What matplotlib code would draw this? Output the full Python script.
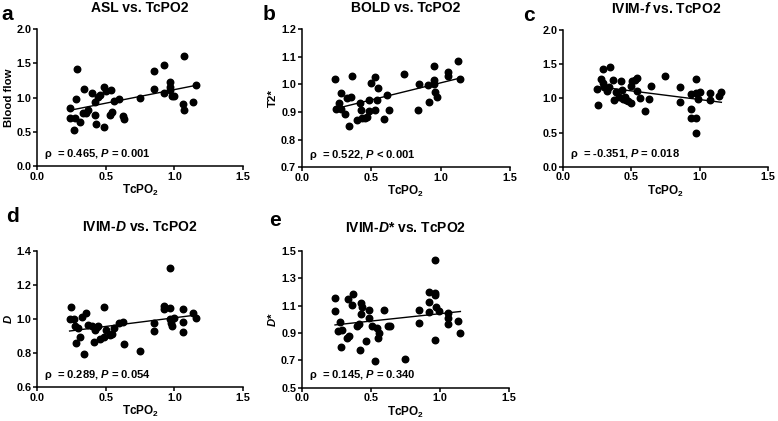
import matplotlib
matplotlib.use("Agg")
import matplotlib.pyplot as plt
import numpy as np

plt.rcParams['font.family'] = ['Liberation Sans', 'DejaVu Sans']
plt.rcParams['font.weight'] = 'bold'
plt.rcParams['mathtext.fontset'] = 'custom'
plt.rcParams['mathtext.rm'] = 'Liberation Sans:bold'
plt.rcParams['mathtext.it'] = 'Liberation Sans:italic:bold'
plt.rcParams['mathtext.bf'] = 'Liberation Sans:bold'

# panel a: ASL blood flow
asl_x = [0.242, 0.237, 0.271, 0.278, 0.281, 0.290, 0.315, 0.339, 0.334, 0.358, 0.368,
         0.399, 0.419, 0.424, 0.428, 0.440, 0.460, 0.486, 0.489, 0.503, 0.535, 0.532,
         0.549, 0.557, 0.598, 0.622, 0.634, 0.750, 0.852, 0.852, 0.927, 0.927, 0.968,
         0.968, 0.968, 0.980, 1.000, 1.060, 1.067, 1.067, 1.137, 1.154]
asl_y = [0.84, 0.70, 0.52, 0.70, 0.98, 1.41, 0.64, 1.13, 0.78, 0.77, 0.82,
         1.06, 0.75, 0.94, 0.61, 1.01, 1.04, 1.16, 0.57, 1.10, 1.11, 0.74,
         0.79, 0.95, 0.98, 0.73, 0.68, 0.99, 1.39, 1.12, 1.48, 1.06, 1.22,
         1.16, 1.11, 1.02, 1.02, 0.90, 0.82, 1.61, 0.93, 1.18]

# panel b: BOLD T2*
bold_x = [0.238, 0.245, 0.267, 0.281, 0.286, 0.314, 0.329, 0.340, 0.357, 0.364, 0.400,
          0.417, 0.424, 0.433, 0.452, 0.469, 0.481, 0.483, 0.500, 0.524, 0.529, 0.540,
          0.552, 0.590, 0.614, 0.626, 0.738, 0.840, 0.845, 0.912, 0.917, 0.952, 0.952,
          0.952, 0.960, 0.976, 1.055, 1.055, 1.121, 1.138]
bold_y = [1.018, 0.909, 0.933, 0.967, 0.909, 0.894, 0.951, 0.849, 0.955, 1.030, 0.870,
          0.931, 0.907, 0.879, 0.879, 0.880, 0.943, 0.903, 1.006, 1.027, 0.906, 0.943,
          0.985, 0.874, 0.963, 0.907, 1.039, 0.907, 1.001, 0.997, 0.937, 1.001, 1.015,
          1.067, 0.973, 0.955, 1.045, 1.030, 1.085, 1.019]

# panel c: IVIM-f
f_x = [0.249, 0.256, 0.280, 0.288, 0.293, 0.300, 0.317, 0.334, 0.341, 0.366, 0.371,
       0.390, 0.410, 0.422, 0.427, 0.439, 0.451, 0.463, 0.476, 0.493, 0.493, 0.507,
       0.524, 0.544, 0.537, 0.561, 0.629, 0.641, 0.598, 0.749, 0.859, 0.859, 0.934,
       0.934, 0.934, 0.971, 0.971, 0.971, 0.976, 0.988, 1.005, 1.073, 1.073, 1.141, 1.159]
f_y = [1.13, 0.91, 1.28, 1.43, 1.23, 1.17, 1.11, 1.16, 1.46, 1.27, 0.98,
       1.10, 1.02, 1.25, 1.12, 0.99, 1.02, 0.98, 0.96, 0.93, 1.18, 1.26,
       1.27, 1.30, 1.11, 1.00, 0.99, 1.18, 0.82, 1.32, 1.16, 0.94, 1.06,
       0.85, 0.72, 1.28, 0.72, 0.50, 1.08, 0.99, 1.10, 1.08, 0.98, 1.03, 1.10]

# panel d: IVIM-D
d_x = [0.237, 0.247, 0.266, 0.278, 0.286, 0.298, 0.315, 0.327, 0.339, 0.358, 0.368,
       0.399, 0.416, 0.423, 0.436, 0.443, 0.460, 0.484, 0.489, 0.503, 0.532, 0.549,
       0.557, 0.593, 0.624, 0.634, 0.750, 0.852, 0.852, 0.927, 0.927, 0.968, 0.968,
       0.968, 0.973, 0.985, 0.997, 1.065, 1.060, 1.065, 1.137, 1.154]
d_y = [0.998, 1.068, 1.000, 0.961, 0.861, 0.945, 0.897, 1.010, 0.793, 1.037, 0.965,
       0.961, 0.863, 0.936, 0.955, 0.961, 0.883, 0.893, 1.072, 0.936, 0.906, 0.910,
       0.949, 0.975, 0.981, 0.852, 0.815, 0.979, 0.930, 1.078, 1.057, 1.297, 1.062,
       0.998, 0.975, 0.961, 1.004, 1.059, 0.984, 0.922, 1.037, 1.004]

# panel e: IVIM-D*
ds_x = [0.241, 0.241, 0.277, 0.265, 0.284, 0.294, 0.325, 0.332, 0.344, 0.361, 0.368,
        0.397, 0.417, 0.421, 0.426, 0.428, 0.438, 0.462, 0.486, 0.489, 0.506, 0.530,
        0.542, 0.549, 0.561, 0.597, 0.621, 0.638, 0.746, 0.850, 0.850, 0.922, 0.922,
        0.922, 0.963, 0.963, 0.963, 0.963, 0.975, 0.995, 1.060, 1.060, 1.060, 1.132, 1.148]
ds_y = [1.157, 1.060, 0.980, 0.914, 0.800, 0.920, 0.865, 1.147, 0.880, 1.108, 1.189,
        0.953, 0.970, 0.775, 1.120, 1.043, 1.091, 0.841, 1.072, 1.011, 0.953, 0.695,
        0.940, 0.867, 0.901, 1.072, 0.950, 0.950, 0.714, 1.072, 0.974, 1.200, 1.128,
        1.055, 1.432, 1.196, 1.176, 0.848, 1.091, 1.060, 1.050, 1.013, 0.965, 0.987, 0.901]

panels = [
    ('a', 'ASL vs. TcPO2', 'Blood flow', asl_x, asl_y, (0, 2.0), [0.0, 0.5, 1.0, 1.5, 2.0],
     'ρ  = 0.465, $P$ = 0.001', [0.0476, 0.6057, 0.265, 0.3254], 12),
    ('b', 'BOLD vs. TcPO2', 'T2*', bold_x, bold_y, (0.7, 1.2), [0.7, 0.8, 0.9, 1.0, 1.1, 1.2],
     'ρ  = 0.522, $P$ < 0.001', [0.3878, 0.6030, 0.268, 0.3280], 12),
    ('c', 'IVIM-$f$ vs. TcPO2', '', f_x, f_y, (0, 2.0), [0.0, 0.5, 1.0, 1.5, 2.0],
     'ρ  = -0.351, $P$ = 0.018', [0.7240, 0.6040, 0.263, 0.3247], 12),
    ('d', 'IVIM-$D$ vs. TcPO2', '$D$', d_x, d_y, (0.6, 1.4), [0.6, 0.8, 1.0, 1.2, 1.4],
     'ρ  = 0.289, $P$ = 0.054', [0.0476, 0.0800, 0.265, 0.3245], 14),
    ('e', 'IVIM-$D$* vs. TcPO2', '$D$*', ds_x, ds_y, (0.5, 1.5), [0.5, 0.7, 0.9, 1.1, 1.3, 1.5],
     'ρ  = 0.145, $P$ = 0.340', [0.3878, 0.0790, 0.2665, 0.3245], 14),
]

fig = plt.figure(figsize=(7.78, 4.21), dpi=100)

for letter, title, ylab, xs, ys, ylim, yticks, stat, pos, tpad in panels:
    ax = fig.add_axes(pos)
    xs = np.array(xs)
    ys = np.array(ys)
    ax.scatter(xs, ys, s=22, color='black', zorder=3, clip_on=False)
    slope, icpt = np.polyfit(xs, ys, 1)
    lx = np.array([xs.min(), xs.max()])
    ax.plot(lx, slope * lx + icpt, color='black', lw=1.0)
    ax.set_xlim(0, 1.5)
    ax.set_ylim(*ylim)
    ax.set_xticks([0.0, 0.5, 1.0, 1.5])
    ax.set_yticks(yticks)
    ax.xaxis.set_major_formatter(matplotlib.ticker.FormatStrFormatter('%.1f'))
    ax.yaxis.set_major_formatter(matplotlib.ticker.FormatStrFormatter('%.1f'))
    for side in ['top', 'right']:
        ax.spines[side].set_visible(False)
    for side in ['left', 'bottom']:
        ax.spines[side].set_linewidth(1.1)
    ax.tick_params(direction='out', length=3, width=1.1, labelsize=7.8, pad=1)
    ax.set_xlabel('TcPO$_{\\mathrm{2}}$', fontsize=8.5, fontweight='bold', labelpad=1)
    if ylab:
        ax.set_ylabel(ylab, fontsize=8.2, fontweight='bold', labelpad=2)
    ax.set_title(title, fontsize=10, fontweight='bold', pad=tpad)
    ax.text(0.035, 0.09, stat, transform=ax.transAxes, fontsize=8,
            fontweight='bold', ha='left', va='center')

# panel letters
fig.text(0.002, 0.965, 'a', fontsize=15, fontweight='bold', va='center')
fig.text(0.338, 0.965, 'b', fontsize=15, fontweight='bold', va='center')
fig.text(0.672, 0.962, 'c', fontsize=15, fontweight='bold', va='center')
fig.text(0.008, 0.486, 'd', fontsize=15, fontweight='bold', va='center')
fig.text(0.346, 0.476, 'e', fontsize=15, fontweight='bold', va='center')

fig.savefig('out.png', dpi=100)
